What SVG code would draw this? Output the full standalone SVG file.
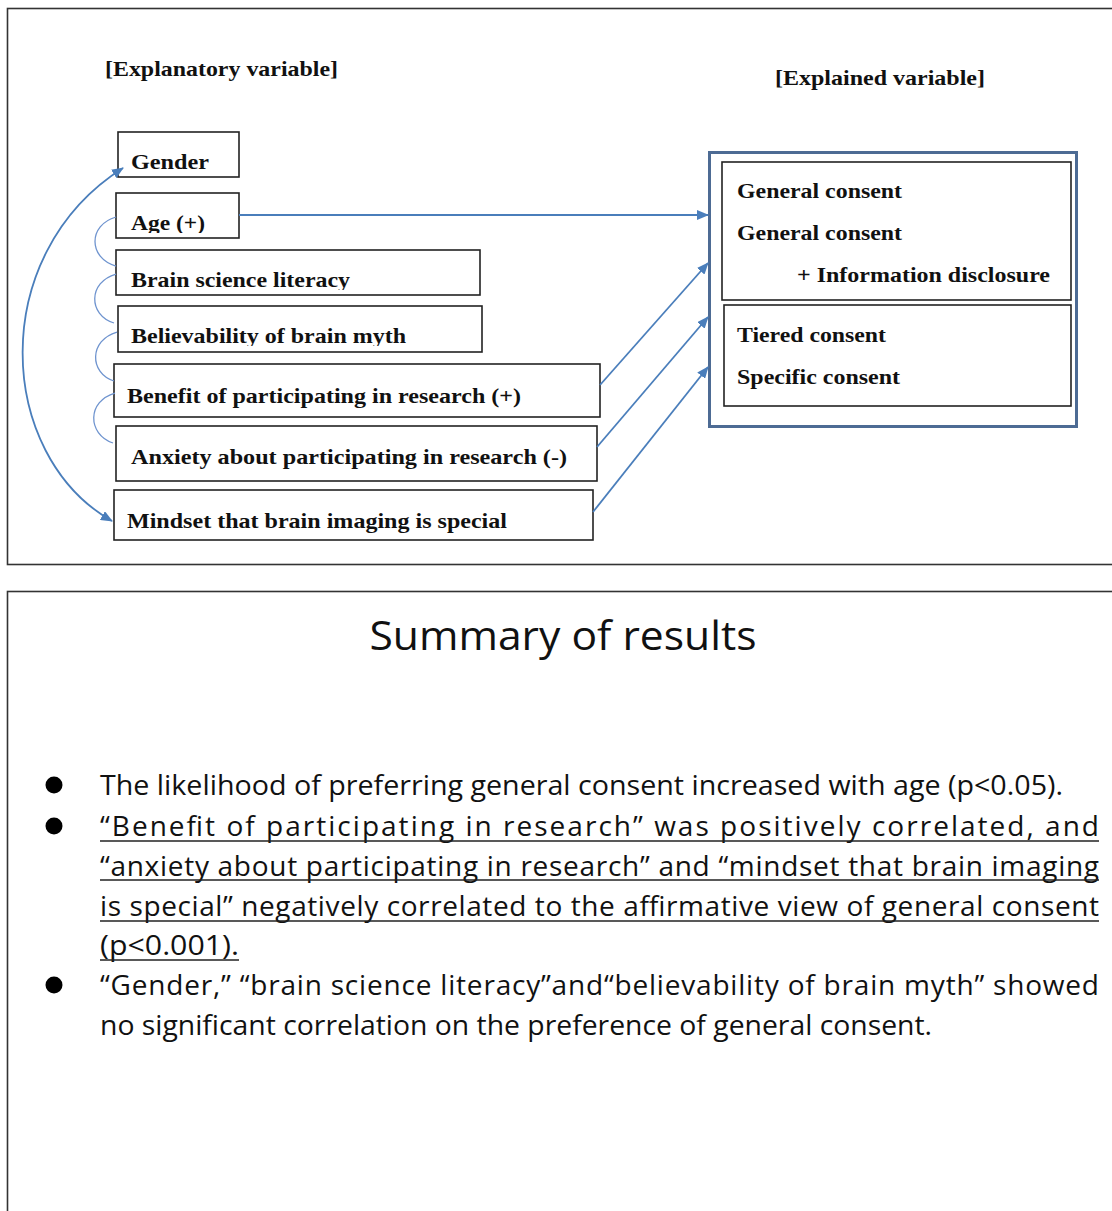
<svg xmlns="http://www.w3.org/2000/svg" width="1112" height="1211" viewBox="0 0 1112 1211">
<defs>
<style>
.frame{fill:none;stroke:#333;stroke-width:1.6}
.box{fill:#fff;stroke:#222;stroke-width:1.6}
.ser{font-family:"Liberation Serif","Times New Roman",serif;font-weight:bold;font-size:22px;fill:#111}
.con{fill:none;stroke:#4a7ebb;stroke-width:1.8}
.loop{fill:none;stroke:#6f94cf;stroke-width:1.3}
.sans{font-family:"Open Sans","Liberation Sans",sans-serif;font-size:28px;fill:#111}
.ul{stroke:#222;stroke-width:1.6}
</style>
<marker id="ah" viewBox="0 0 12 10" refX="11" refY="5" markerWidth="12" markerHeight="10" markerUnits="userSpaceOnUse" orient="auto-start-reverse">
<path d="M0,0 L12,5 L0,10 z" fill="#4a7ebb"/>
</marker>
<clipPath id="cAge"><rect x="116" y="193" width="123" height="40"/></clipPath>
<clipPath id="cBrain"><rect x="116" y="250" width="364" height="40"/></clipPath>
<clipPath id="cBel"><rect x="118" y="306" width="364" height="40"/></clipPath>
</defs>
<rect width="1112" height="1211" fill="#fff"/>
<rect class="frame" x="7.5" y="8.5" width="1115" height="556"/>
<rect class="frame" x="7.5" y="591.5" width="1115" height="700"/>

<text class="ser" x="105" y="76" textLength="233" lengthAdjust="spacingAndGlyphs">[Explanatory variable]</text>
<text class="ser" x="775" y="85" textLength="210" lengthAdjust="spacingAndGlyphs">[Explained variable]</text>

<g id="gender"><rect class="box" x="118" y="132" width="121" height="45"/><text class="ser" x="131" y="169" textLength="78" lengthAdjust="spacingAndGlyphs">Gender</text></g>
<g id="age"><rect class="box" x="116" y="193" width="123" height="45"/><text class="ser" x="131" y="230" clip-path="url(#cAge)" textLength="74" lengthAdjust="spacingAndGlyphs">Age (+)</text></g>
<g id="literacy"><rect class="box" x="116" y="250" width="364" height="45"/><text class="ser" x="131" y="287" clip-path="url(#cBrain)" textLength="219" lengthAdjust="spacingAndGlyphs">Brain science literacy</text></g>
<g id="myth"><rect class="box" x="118" y="306" width="364" height="46"/><text class="ser" x="131" y="343" clip-path="url(#cBel)" textLength="275" lengthAdjust="spacingAndGlyphs">Believability of brain myth</text></g>
<g id="benefit"><rect class="box" x="114" y="364" width="486" height="53"/><text class="ser" x="127" y="403" textLength="394" lengthAdjust="spacingAndGlyphs">Benefit of participating in research (+)</text></g>
<g id="anxiety"><rect class="box" x="116" y="426" width="481" height="55"/><text class="ser" x="131" y="464" textLength="436" lengthAdjust="spacingAndGlyphs">Anxiety about participating in research (-)</text></g>
<g id="mindset"><rect class="box" x="114" y="490" width="479" height="50"/><text class="ser" x="127" y="528" textLength="380" lengthAdjust="spacingAndGlyphs">Mindset that brain imaging is special</text></g>

<g id="explained">
<rect x="709.5" y="152.5" width="367" height="274" fill="#fff" stroke="#4d6b94" stroke-width="3"/>
<rect class="box" x="722" y="162" width="349" height="138"/>
<rect class="box" x="724" y="305" width="347" height="101"/>
<text class="ser" x="737" y="198" textLength="165" lengthAdjust="spacingAndGlyphs">General consent</text>
<text class="ser" x="737" y="240" textLength="165" lengthAdjust="spacingAndGlyphs">General consent</text>
<text class="ser" x="797" y="282" textLength="253" lengthAdjust="spacingAndGlyphs">+ Information disclosure</text>
<text class="ser" x="737" y="342" textLength="149" lengthAdjust="spacingAndGlyphs">Tiered consent</text>
<text class="ser" x="737" y="384" textLength="163" lengthAdjust="spacingAndGlyphs">Specific consent</text>
</g>

<g id="connectors">
<line class="con" x1="239" y1="215" x2="708" y2="215" marker-end="url(#ah)"/>
<line class="con" x1="600" y1="385" x2="708" y2="263" marker-end="url(#ah)"/>
<line class="con" x1="597" y1="447" x2="708" y2="317" marker-end="url(#ah)"/>
<line class="con" x1="593" y1="512" x2="708" y2="367" marker-end="url(#ah)"/>
<path class="con" d="M123,168 C-14,255 -4,455 112,521" marker-start="url(#ah)" marker-end="url(#ah)"/>
<path class="loop" d="M116,217 C88,225 88,258 116,266"/>
<path class="loop" d="M116,274 C88,282 88,315 114,323"/>
<path class="loop" d="M117,332 C89,340 89,373 114,381"/>
<path class="loop" d="M115,393 C87,401 87,434 113,443"/>
</g>

<g id="summary">
<text x="563" y="650" text-anchor="middle" font-family="Open Sans, Liberation Sans, sans-serif" font-size="40" fill="#111" textLength="387" lengthAdjust="spacingAndGlyphs">Summary of results</text>
<circle cx="54" cy="785" r="8.5" fill="#000"/>
<circle cx="54" cy="826" r="8.5" fill="#000"/>
<circle cx="54" cy="985" r="8.5" fill="#000"/>
<text class="sans" x="100" y="795" textLength="963" lengthAdjust="spacingAndGlyphs">The likelihood of preferring general consent increased with age (p&lt;0.05).</text>
<text class="sans" x="100" y="836" textLength="999" lengthAdjust="spacing">“Benefit of participating in research” was positively correlated, and</text>
<text class="sans" x="100" y="876" textLength="999" lengthAdjust="spacing">“anxiety about participating in research” and “mindset that brain imaging</text>
<text class="sans" x="100" y="916" textLength="999" lengthAdjust="spacing">is special” negatively correlated to the affirmative view of general consent</text>
<text class="sans" x="100" y="955" textLength="139" lengthAdjust="spacingAndGlyphs">(p&lt;0.001).</text>
<line class="ul" x1="100" y1="841" x2="1099" y2="841"/>
<line class="ul" x1="100" y1="880" x2="1099" y2="880"/>
<line class="ul" x1="100" y1="921" x2="1099" y2="921"/>
<line class="ul" x1="100" y1="960" x2="239" y2="960"/>
<text class="sans" x="100" y="995" textLength="999" lengthAdjust="spacing">“Gender,” “brain science literacy”and“believability of brain myth” showed</text>
<text class="sans" x="100" y="1035" textLength="832" lengthAdjust="spacingAndGlyphs">no significant correlation on the preference of general consent.</text>
</g>
</svg>
